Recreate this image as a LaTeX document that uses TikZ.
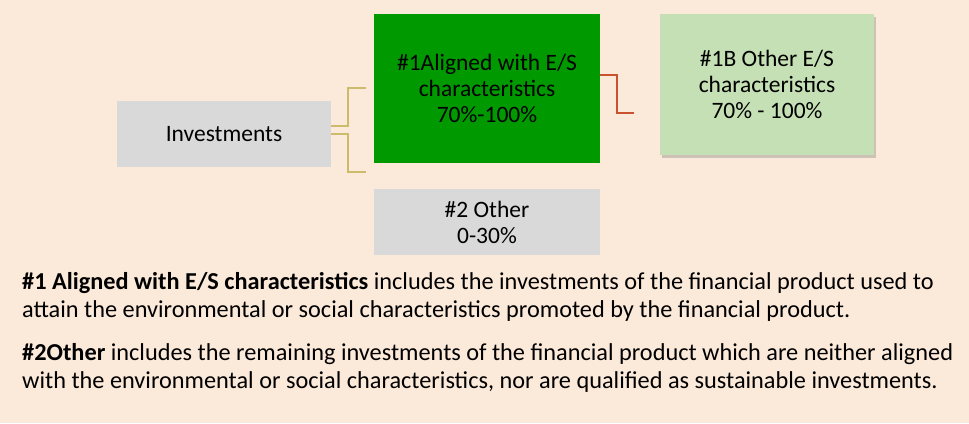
\documentclass[tikz,border=0pt]{standalone}
\usepackage{fontspec}
\setmainfont{Carlito}
\usetikzlibrary{shadows}
\definecolor{bgbeige}{HTML}{FBE9D9}
\definecolor{boxgray}{HTML}{D9D9D9}
\definecolor{esgreen}{HTML}{009900}
\definecolor{lightgreen}{HTML}{C5E0B4}
\definecolor{linktan}{HTML}{CDBB6C}
\definecolor{linkred}{HTML}{C9532F}
\tikzset{
  catbox/.style={fill=boxgray, inner sep=0pt, align=center,
    font=\fontsize{23.5}{26}\selectfont},
  alignbox/.style={catbox, fill=esgreen},
  subbox/.style={catbox, fill=lightgreen,
    drop shadow={shadow xshift=2pt, shadow yshift=-3pt, opacity=0.3, fill=black!60}},
  notetext/.style={anchor=base west, inner sep=0pt, align=left,
    font=\fontsize{24.3}{28}\selectfont}
}

\begin{document}
\begin{tikzpicture}[x=1pt, y=-1pt]
%background
\fill [bgbeige] (0,0) rectangle (969,423);
%the boxes
\node [catbox, minimum width=214pt, minimum height=66pt] (invest) at (224,134) {Investments};
\node [alignbox, minimum width=226pt, minimum height=149pt] (aligned) at (487,88.5)
  {\#1Aligned with E/S\\characteristics\\70\%-100\%};
\node [catbox, minimum width=226pt, minimum height=66pt] (other) at (487,222) {\#2 Other\\0-30\%};
\node [subbox, minimum width=214pt, minimum height=141pt] (otheres) at (767,84.5)
  {\#1B Other E/S\\characteristics\\70\% - 100\%};
%the connectors
\coordinate (upend) at (366,88);
\coordinate (downend) at (366,172);
\coordinate (subend) at (634,113);
\draw [linktan, line width=1.3pt] ([yshift=8pt]invest.east) -| (348,88) -- (upend);
\draw [linktan, line width=1.3pt] (invest.east) -| (348,172) -- (downend);
\draw [linkred, line width=1.3pt] ([yshift=13.5pt]aligned.east) -| (617,113) -- (subend);
%the notes
\node [notetext] (note1) at (22,317) {\textbf{\#1 Aligned with E/S characteristics} includes the investments of the financial product used to\\
attain the environmental or social characteristics promoted by the financial product.};
\node [notetext] (note2) at (22,388) {\textbf{\#2Other} includes the remaining investments of the financial product which are neither aligned\\
with the environmental or social characteristics, nor are qualified as sustainable investments.};
\end{tikzpicture}
\end{document}
